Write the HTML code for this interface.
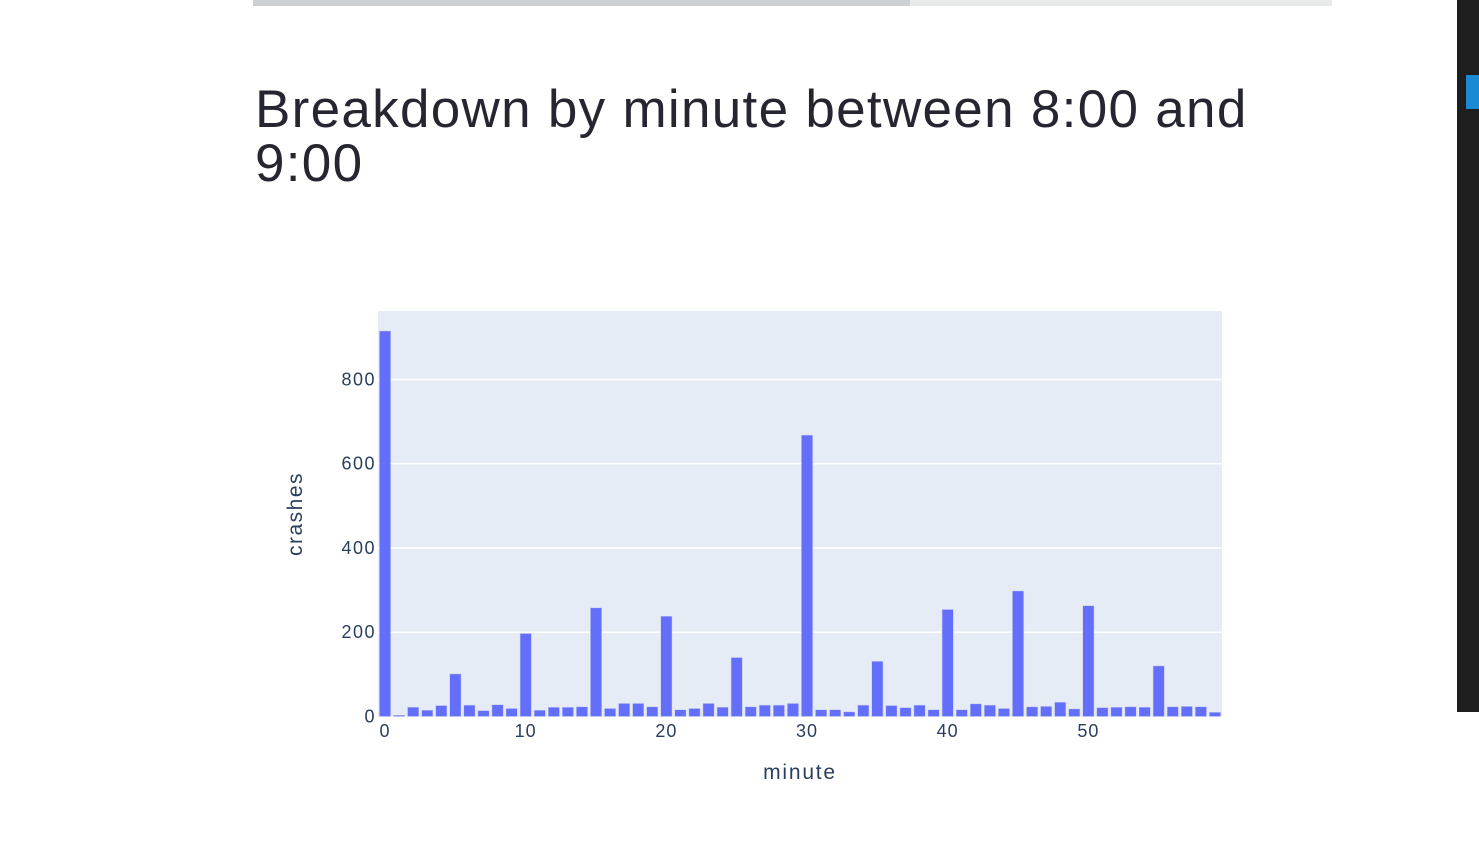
<!DOCTYPE html>
<html><head><meta charset="utf-8"><style>
body{margin:0;width:1479px;height:862px;background:#fff;overflow:hidden;position:relative;font-family:"Liberation Sans",sans-serif}
#topbar{position:absolute;left:253px;top:0;width:1079px;height:6px;background:#e8eaea}
#topbar div{width:657px;height:6px;background:#cdd0d3}
#side{position:absolute;left:1457px;top:0;width:22px;height:712px;background:#1e1e1e}
#side .b{position:absolute;left:9px;top:75px;width:13px;height:34px;background:#1a8ad4}
h1{position:absolute;left:255px;top:83px;margin:0;font-weight:400;font-size:53px;line-height:54px;letter-spacing:1.3px;color:#262631;width:1100px}
</style></head><body>
<div id="topbar"><div></div></div>
<div id="side"><div class="b"></div></div>
<h1>Breakdown by minute between 8:00 and<br>9:00</h1>
<svg id="chart" width="1479" height="862" style="position:absolute;left:0;top:0"></svg>
<script>
const minutes=[];for(let i=0;i<60;i++)minutes.push(i);
const crashes=[915,3,22,15,26,101,27,14,28,19,197,15,22,22,23,258,19,31,31,23,238,16,19,31,22,140,23,27,27,31,668,16,16,11,27,131,26,21,27,16,254,16,30,27,19,298,23,24,34,18,263,21,22,23,22,120,23,24,23,10];
const yTicks=[0,200,400,600,800];
const xTicks=[0,10,20,30,40,50];
const L=378,R=1222,T=311,B=716.5;
const x=v=>L+(v+0.5)*(R-L)/60;
const y=v=>B-v*0.4213;
const svg=document.getElementById('chart');const NS='http://www.w3.org/2000/svg';
function mk(t,a){const e=document.createElementNS(NS,t);for(const k in a)e.setAttribute(k,a[k]);svg.appendChild(e);return e;}
let bg=mk('rect',{x:L,y:T,width:R-L,height:B-T,fill:'#e5ecf6'});


yTicks.forEach(t=>{
 if(t>0){let g=mk('line',{x1:L,x2:R,y1:y(t),y2:y(t),stroke:'#fff','stroke-width':1.5});
 
 }
 let l=mk('text',{x:L-2,y:y(t)+6,'text-anchor':'end','font-size':18,'letter-spacing':1.5,fill:'#2a3f5f'});l.textContent=t;
 
 
});
const bw=(R-L)/60*0.8;
minutes.forEach((m,i)=>{
 let r=mk('rect',{x:x(m)-bw/2,y:y(crashes[i]),width:bw,height:B-y(crashes[i]),fill:'#636efa',stroke:'#c8ccf0','stroke-width':0.5});
 
 
});
xTicks.forEach(t=>{
 let l=mk('text',{x:x(t),y:737,'text-anchor':'middle','font-size':18,'letter-spacing':1,fill:'#2a3f5f'});l.textContent=t;
 
 
});
let xt=mk('text',{x:800,y:779,'text-anchor':'middle','font-size':21,'letter-spacing':1.8,fill:'#2a3f5f'});xt.textContent='minute';


let yt=mk('text',{x:0,y:0,'text-anchor':'middle','font-size':21,'letter-spacing':1.5,fill:'#2a3f5f',transform:'translate(302,514) rotate(-90)'});yt.textContent='crashes';


</script>
</body></html>
